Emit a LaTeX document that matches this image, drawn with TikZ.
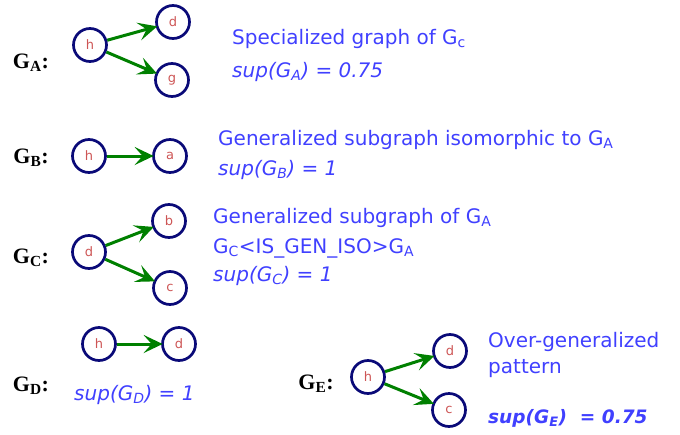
\documentclass[tikz,border=0pt]{standalone}
\usepackage{fontspec}
\usepackage{xcolor}
\usetikzlibrary{arrows.meta}
\usetikzlibrary{positioning}
\setmainfont{DejaVu Sans}
\newfontfamily\glabelfont{Liberation Serif}
\definecolor{nodeblue}{RGB}{10,10,120}
\definecolor{nodered}{RGB}{205,85,85}
\definecolor{edgegreen}{RGB}{0,128,0}
\definecolor{textblue}{RGB}{64,64,255}

\begin{document}
\begin{tikzpicture}[x=1pt,y=-1pt,
    vtx/.style={circle, draw=nodeblue, line width=2.7pt, minimum size=33pt, inner sep=0pt,
        text=nodered, font=\fontsize{13}{13}\selectfont},
    edge/.style={draw=edgegreen, line width=3pt, -{Stealth[length=19pt,width=18pt,inset=8pt]}, shorten >=-1.5pt},
    glabel/.style={font=\glabelfont\bfseries\fontsize{22}{22}\selectfont, inner sep=0pt},
    note/.style={anchor=base west, inner sep=0pt, text=textblue, font=\fontsize{20}{22}\selectfont}]
    \useasboundingbox (0,0) rectangle (680,434);

    % G_A
    \node[glabel] (GA) at (31,63) {G\textsubscript{A}:};
    \node[vtx] (hA) at (90,45) {h};
    \node[vtx] (dA) at (173,22) {d};
    \node[vtx] (gA) at (172,80) {g};
    \draw[edge] (hA) -- (dA);
    \draw[edge] (hA) -- (gA);
    \node[note] (tA1) at (232,44) {Specialized graph of G\textsubscript{c}};
    \node[note] (tA2) at (232,77) {\itshape sup(G\textsubscript{A}) = 0.75};

    % G_B
    \node[glabel] (GB) at (31,158) {G\textsubscript{B}:};
    \node[vtx] (hB) at (89,156) {h};
    \node[vtx] (aB) at (170,156) {a};
    \draw[edge] (hB) -- (aB);
    \node[note] (tB1) at (218,145) {Generalized subgraph isomorphic to G\textsubscript{A}};
    \node[note] (tB2) at (218,175) {\itshape sup(G\textsubscript{B}) = 1};

    % G_C
    \node[glabel] (GC) at (31,258) {G\textsubscript{C}:};
    \node[vtx] (dC) at (89,252) {d};
    \node[vtx] (bC) at (169,221) {b};
    \node[vtx] (cC) at (170,288) {c};
    \draw[edge] (dC) -- (bC);
    \draw[edge] (dC) -- (cC);
    \node[note] (tC1) at (213,223) {Generalized subgraph of G\textsubscript{A}};
    \node[note] (tC2) at (213,253) {G\textsubscript{C}<IS\_GEN\_ISO>G\textsubscript{A}};
    \node[note] (tC3) at (213,281) {\itshape sup(G\textsubscript{C}) = 1};

    % G_D
    \node[glabel] (GD) at (31,386) {G\textsubscript{D}:};
    \node[vtx] (hD) at (99,344) {h};
    \node[vtx] (dD) at (179,344) {d};
    \draw[edge] (hD) -- (dD);
    \node[note] (tD) at (74,400) {\itshape sup(G\textsubscript{D}) = 1};

    % G_E
    \node[glabel] (GE) at (316,384) {G\textsubscript{E}:};
    \node[vtx] (hE) at (368,377) {h};
    \node[vtx] (dE) at (450,351) {d};
    \node[vtx] (cE) at (449,410) {c};
    \draw[edge] (hE) -- (dE);
    \draw[edge] (hE) -- (cE);
    \node[note] (tE1) at (488,347) {Over-generalized};
    \node[note] (tE2) at (488,373) {pattern};
    \node[note, font=\fontsize{18.5}{20}\selectfont] (tE3) at (488,423) {\bfseries\itshape sup(G\textsubscript{E})~~= 0.75};
\end{tikzpicture}
\end{document}
